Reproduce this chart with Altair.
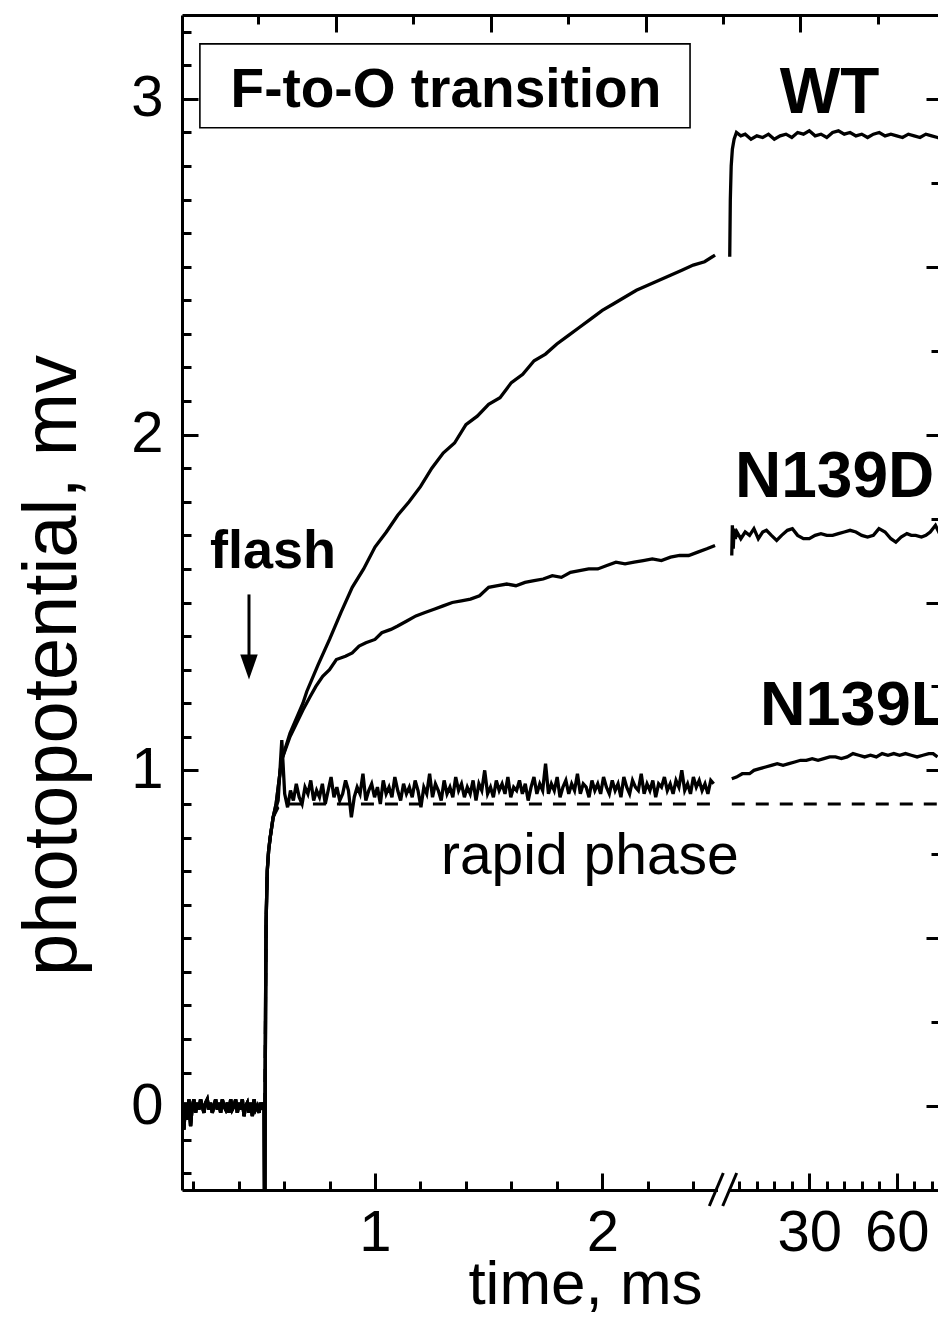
import altair as alt
import numpy as np
import pandas as pd

FONT = "Liberation Sans"

# ---- broken time axis: first segment in ms, second segment (after //) in ms on a compressed scale
U0 = 2.526      # axis position of the break
K = 0.01282     # axis units per ms in the second segment
XMIN, XMAX = 0.151, 3.512
YMIN, YMAX = -0.25, 3.25
W_FULL, W, H = 764, 756, 1175   # full x range in px, visible plot width, plot height

# ---- shared baseline before the flash (time grid in ms, values in mV)
pre_t = list(np.linspace(0.152, 0.512, 50))
pre_v = [-0.01, -0.07, 0.01, -0.04, 0.02, -0.06, 0.00, 0.02, -0.02, 0.01,
         -0.01, 0.02, 0.00, -0.02, 0.01, 0.02, -0.01, 0.01, -0.02, 0.00,
         0.02, -0.01, 0.01, -0.02, 0.02, 0.00, -0.01, 0.01, -0.02, 0.02,
         -0.01, 0.00, 0.02, -0.02, 0.01, -0.01, 0.02, -0.03, 0.00, 0.01,
         -0.02, 0.01, -0.03, 0.02, -0.01, 0.00, -0.02, 0.01, -0.01, 0.01]
# flash artefact and rapid rise (shared by all traces)
rise_t = [0.515, 0.517, 0.519, 0.521, 0.526, 0.532, 0.539, 0.552]
rise_v = [-0.45, 0.05, 0.35, 0.55, 0.70, 0.76, 0.80, 0.86]

# ---- WT
wt_t = [0.565, 0.589, 0.626, 0.683, 0.70, 0.75, 0.80, 0.85, 0.90, 0.95, 1.00, 1.05,
        1.10, 1.15, 1.20, 1.25, 1.30, 1.35, 1.40, 1.45, 1.50, 1.55, 1.60, 1.65,
        1.70, 1.75, 1.80, 1.85, 1.90, 1.95, 2.00, 2.05, 2.10, 2.15, 2.20, 2.25,
        2.30, 2.35, 2.40, 2.45, 2.496]
wt_v = [0.90, 1.03, 1.11, 1.20, 1.235, 1.315, 1.39, 1.47, 1.545, 1.60, 1.665, 1.71,
        1.76, 1.80, 1.845, 1.90, 1.945, 1.975, 2.03, 2.055, 2.09, 2.11, 2.155, 2.18,
        2.22, 2.24, 2.27, 2.295, 2.32, 2.345, 2.37, 2.39, 2.41, 2.43, 2.445, 2.46,
        2.475, 2.49, 2.505, 2.515, 2.535]
wt_t2 = [2.7, 2.9, 3.2, 3.6, 4.2, 5.0, 6.5, 8, 10, 12, 14, 16, 18, 20, 22, 24, 26, 28,
         30, 32, 34, 36, 38, 40, 42, 44, 46, 48, 50, 52, 54, 56, 58, 60, 62, 64, 66,
         68, 70, 72, 74, 76, 78]
wt_v2 = [2.53, 2.70, 2.80, 2.85, 2.88, 2.90, 2.89, 2.895, 2.88, 2.89, 2.885, 2.895,
         2.88, 2.89, 2.895, 2.885, 2.90, 2.895, 2.905, 2.89, 2.895, 2.885, 2.90, 2.905,
         2.895, 2.90, 2.89, 2.895, 2.885, 2.895, 2.90, 2.89, 2.895, 2.89, 2.885, 2.895,
         2.89, 2.885, 2.895, 2.89, 2.885, 2.88, 2.885]

# ---- N139D
d_t = [0.565, 0.589, 0.626, 0.683, 0.715, 0.74, 0.77, 0.80, 0.83, 0.87, 0.90, 0.93,
       0.96, 1.00, 1.03, 1.07, 1.10, 1.14, 1.18, 1.22, 1.26, 1.30, 1.34, 1.38, 1.42,
       1.46, 1.50, 1.54, 1.58, 1.62, 1.66, 1.70, 1.74, 1.78, 1.82, 1.86, 1.90, 1.94,
       1.98, 2.02, 2.06, 2.10, 2.14, 2.18, 2.22, 2.26, 2.30, 2.34, 2.38, 2.42, 2.46,
       2.496]
d_v = [0.90, 1.03, 1.10, 1.18, 1.22, 1.25, 1.28, 1.30, 1.33, 1.34, 1.35, 1.37,
       1.38, 1.39, 1.41, 1.42, 1.43, 1.445, 1.46, 1.47, 1.48, 1.49, 1.50, 1.505, 1.51,
       1.52, 1.545, 1.55, 1.555, 1.55, 1.56, 1.565, 1.57, 1.58, 1.575, 1.59, 1.595, 1.60,
       1.60, 1.61, 1.62, 1.615, 1.62, 1.625, 1.63, 1.625, 1.635, 1.64, 1.64, 1.65, 1.66,
       1.67]
d_t2 = [3.4, 3.6, 3.9, 4.2, 4.6, 5.2, 6.5, 8, 9.5, 11, 12.5, 14, 15.3, 17, 18.8, 20.5,
        22.5, 24.2, 26, 28, 30, 32, 34, 36, 38, 40, 42, 44, 46, 48, 50, 52, 53.9, 56,
        58, 59.7, 61.5, 63.5, 65, 66.5, 68.5, 70, 71.5, 73.3, 75, 77]
d_v2 = [1.64, 1.73, 1.66, 1.72, 1.69, 1.71, 1.69, 1.71, 1.70, 1.72, 1.69, 1.71,
        1.715, 1.70, 1.685, 1.70, 1.715, 1.72, 1.70, 1.69, 1.69, 1.70, 1.705, 1.70,
        1.70, 1.705, 1.71, 1.715, 1.71, 1.70, 1.695, 1.70, 1.72, 1.71, 1.69, 1.68,
        1.695, 1.705, 1.70, 1.70, 1.695, 1.70, 1.71, 1.73, 1.70, 1.70]

# ---- N139L (noisy, sampled on a regular time grid)
l_t = [0.574] + list(np.linspace(0.59, 2.49, 150))
l_v = [0.91,
       1.09, 0.93, 0.89, 0.94, 0.91, 0.96, 0.92, 0.90, 0.95, 0.93, 0.97, 0.91, 0.94, 0.92, 0.96,
       0.90, 0.94, 0.98, 0.92, 0.95, 0.91, 0.93, 0.97, 0.94, 0.86, 0.92, 0.95, 0.93, 0.99, 0.91,
       0.94, 0.96, 0.92, 0.95, 0.90, 0.97, 0.93, 0.95, 0.92, 0.98, 0.94, 0.91, 0.96, 0.93, 0.95,
       0.92, 0.97, 0.94, 0.89, 0.95, 0.93, 0.99, 0.92, 0.96, 0.94, 0.91, 0.97, 0.93, 0.95, 0.92,
       0.98, 0.94, 0.96, 0.92, 0.95, 0.93, 0.97, 0.91, 0.96, 0.94, 1.00, 0.93, 0.95, 0.92, 0.97,
       0.94, 0.96, 0.93, 0.98, 0.92, 0.95, 0.94, 0.97, 0.93, 0.96, 0.91, 0.95, 0.98, 0.93, 0.96,
       0.94, 1.02, 0.93, 0.96, 0.94, 0.98, 0.92, 0.95, 0.97, 0.93, 0.96, 0.94, 0.99, 0.93, 0.96,
       0.95, 0.92, 0.97, 0.94, 0.96, 0.93, 0.98, 0.95, 0.93, 0.97, 0.94, 0.96, 0.92, 0.98, 0.95,
       0.93, 0.97, 0.95, 0.94, 0.99, 0.93, 0.96, 0.94, 0.97, 0.92, 0.96, 0.95, 0.98, 0.94, 0.96,
       0.93, 0.97, 0.95, 1.00, 0.94, 0.96, 0.93, 0.98, 0.95, 0.97, 0.94, 0.96, 0.93, 0.97, 0.96]
l_t2 = [3.4, 5, 7, 9.5, 11, 13, 15, 17, 19, 21, 23, 25, 27, 29, 31, 33, 35, 37, 39,
        41, 43, 45, 47, 49, 51, 53, 55, 57, 59, 61, 63, 65, 67, 69, 71, 72.5, 74]
l_v2 = [0.975, 0.98, 0.99, 0.99, 1.00, 1.005, 1.01, 1.015, 1.02, 1.015, 1.02, 1.025,
        1.03, 1.03, 1.035, 1.03, 1.035, 1.04, 1.04, 1.035, 1.04, 1.05, 1.045, 1.04,
        1.045, 1.04, 1.05, 1.045, 1.05, 1.045, 1.05, 1.045, 1.04, 1.045, 1.05, 1.05,
        1.04]

# ---- rapid phase (dashed)
r_t = [0.515, 0.519, 0.521, 0.526, 0.532, 0.539, 0.552, 0.574, 0.60, 2.496]
r_v = [0.0, 0.35, 0.55, 0.70, 0.76, 0.80, 0.86, 0.89, 0.90, 0.90]
r_t2 = [3.4, 80]
r_v2 = [0.90, 0.90]

# ---- axis tick values
x_major = [1, 2]
x_major2 = [30, 60]
x_minor = [0.2, 0.4, 0.6, 0.8, 1.2, 1.4, 1.6, 1.8, 2.2, 2.4]
x_minor2 = [6, 12, 18, 24, 36, 42, 48, 54, 66, 72]
top_major = [0.827, 1.509, 2.191, 2.870]
top_minor = [0.485, 1.167, 1.849, 2.531, 3.213]
y_major = [0, 1, 2, 3]
y_minor = [-0.2, -0.1, 0.1, 0.2, 0.3, 0.4, 0.5, 0.6, 0.7, 0.8, 0.9, 1.1, 1.2, 1.3,
           1.4, 1.5, 1.6, 1.7, 1.8, 1.9, 2.1, 2.2, 2.3, 2.4, 2.5, 2.6, 2.7, 2.8, 2.9,
           3.1, 3.2]
yr_major = [0, 0.5, 1, 1.5, 2, 2.5, 3]
yr_minor = [0.25, 0.75, 1.25, 1.75, 2.25, 2.75]


def second(t2):
    return [U0 + K * x for x in t2]


def frame(u, v, name):
    return pd.DataFrame({"u": u, "v": v, "trace": name})


lines = pd.concat([
    frame(pre_t + rise_t + wt_t, pre_v + rise_v + wt_v, "WT a"),
    frame(second(wt_t2), wt_v2, "WT b"),
    frame(pre_t + rise_t + d_t, pre_v + rise_v + d_v, "N139D a"),
    frame(second(d_t2), d_v2, "N139D b"),
    frame(pre_t + rise_t + l_t, pre_v + rise_v + l_v, "N139L a"),
    frame(second(l_t2), l_v2, "N139L b"),
])
dashed = pd.concat([frame(r_t, r_v, "a"), frame(second(r_t2), r_v2, "b")])

xs = alt.Scale(domain=[XMIN, XMAX], range=[0, W_FULL], nice=False, zero=False)
ys = alt.Scale(domain=[YMIN, YMAX], nice=False, zero=False)

tick_common = dict(labels=False, domain=False, grid=False, title=None,
                   tickColor="black", tickWidth=3)

X_MAIN = alt.Axis(orient="bottom", values=x_major + second(x_major2),
                  labelExpr="datum.value < 2.6 ? format(datum.value, '.0f') : "
                            f"format((datum.value - {U0}) / {K}, '.0f')",
                  ticks=False, tickSize=0, domain=True, domainWidth=3,
                  domainColor="black", grid=False, labelFont=FONT,
                  labelFontSize=58, labelColor="black", labelBaseline="alphabetic",
                  labelPadding=60, labelOverlap=False, labelFlush=False,
                  title="time, ms", titleFont=FONT, titleFontSize=62,
                  titleFontWeight="normal", titleColor="black",
                  titleBaseline="alphabetic", titleAlign="center", titleAnchor="start",
                  titleX=403, titleY=113)
Y_MAIN = alt.Axis(orient="left", values=y_major, ticks=False, tickSize=0,
                  domain=True, domainWidth=3, domainColor="black", grid=False,
                  labelFont=FONT, labelFontSize=58, labelColor="black",
                  labelPadding=19, labelOverlap=False, labelFlush=False,
                  title="photopotential, mv", titleFont=FONT, titleFontSize=76,
                  titleFontWeight="normal", titleColor="black",
                  titleBaseline="alphabetic", titleAlign="center", titleAnchor="start",
                  titleAngle=270, titleX=-107, titleY=650)

axes_x = [
    alt.Axis(orient="top", offset=-H, values=x_major + second(x_major2), tickSize=17, **tick_common),
    alt.Axis(orient="top", offset=-H, values=x_minor + second(x_minor2), tickSize=9, **tick_common),
    alt.Axis(orient="bottom", offset=-H, values=top_major, tickSize=17, labels=False,
             domain=True, domainWidth=3, domainColor="black", grid=False, title=None,
             tickColor="black", tickWidth=3),
    alt.Axis(orient="bottom", offset=-H, values=top_minor, tickSize=9, **tick_common),
]
axes_y = [
    alt.Axis(orient="right", offset=-W, values=y_major, tickSize=16, **tick_common),
    alt.Axis(orient="right", offset=-W, values=y_minor, tickSize=9, **tick_common),
    alt.Axis(orient="left", offset=-W, values=yr_major, tickSize=12, **tick_common),
    alt.Axis(orient="left", offset=-W, values=yr_minor, tickSize=7, **tick_common),
]

anchor = pd.DataFrame({"u": [1.0], "v": [0.0]})
layers = []
for ax in axes_x:
    layers.append(alt.Chart(anchor).mark_point(opacity=0).encode(
        x=alt.X("u:Q", scale=xs, axis=ax), y=alt.Y("v:Q", scale=ys, axis=None)))
for ax in axes_y:
    layers.append(alt.Chart(anchor).mark_point(opacity=0).encode(
        x=alt.X("u:Q", scale=xs, axis=None), y=alt.Y("v:Q", scale=ys, axis=ax)))

# dashed rapid phase
layers.append(alt.Chart(dashed).mark_line(color="black", strokeWidth=3, strokeDash=[13, 11], clip=True).encode(
    x=alt.X("u:Q", scale=xs, axis=None), y=alt.Y("v:Q", scale=ys, axis=None), detail="trace:N"))
# traces
layers.append(alt.Chart(lines).mark_line(color="black", strokeWidth=3.3, clip=True).encode(
    x=alt.X("u:Q", scale=xs, axis=X_MAIN), y=alt.Y("v:Q", scale=ys, axis=Y_MAIN),
    detail="trace:N", order="u:Q"))

# boxed title
box = pd.DataFrame({"u": [0.2297], "u2": [2.386], "v": [3.164], "v2": [2.914]})
layers.append(alt.Chart(box).mark_rect(fill="white", stroke="black", strokeWidth=1.6).encode(
    x=alt.X("u:Q", scale=xs, axis=None), x2="u2", y=alt.Y("v:Q", scale=ys, axis=None), y2="v2"))

labels_bold = pd.DataFrame({
    "u": [1.312, 2.781, 2.584, 2.694, 0.274],
    "v": [2.976, 2.958, 1.815, 1.134, 1.604],
    "txt": ["F-to-O transition", "WT", "N139D", "N139L", "flash"],
    "size": [55, 64, 64, 63, 54],
    "al": ["center", "left", "left", "left", "left"],
})
for _, row in labels_bold.iterrows():
    layers.append(alt.Chart(labels_bold[labels_bold.txt == row.txt]).mark_text(
        font=FONT, fontWeight="bold", fontSize=int(row["size"]), align=row.al,
        baseline="alphabetic", color="black").encode(
        x=alt.X("u:Q", scale=xs, axis=None), y=alt.Y("v:Q", scale=ys, axis=None), text="txt:N"))

rapid = pd.DataFrame({"u": [1.290], "v": [0.690], "txt": ["rapid phase"]})
layers.append(alt.Chart(rapid).mark_text(font=FONT, fontSize=57, align="left",
                                         baseline="alphabetic", color="black").encode(
    x=alt.X("u:Q", scale=xs, axis=None), y=alt.Y("v:Q", scale=ys, axis=None), text="txt:N"))

# flash arrow
arrow = pd.DataFrame({"u": [0.4457], "v": [1.524], "v2": [1.333]})
layers.append(alt.Chart(arrow).mark_rule(color="black", strokeWidth=3).encode(
    x=alt.X("u:Q", scale=xs, axis=None), y=alt.Y("v:Q", scale=ys, axis=None), y2="v2"))
head = pd.DataFrame({"u": [0.4457], "v": [1.308]})
layers.append(alt.Chart(head).mark_point(shape="M-0.7,-1L0.7,-1L0,1Z", size=625, filled=True,
                                         color="black", opacity=1, strokeWidth=0).encode(
    x=alt.X("u:Q", scale=xs, axis=None), y=alt.Y("v:Q", scale=ys, axis=None)))

# axis break marks //
gap = pd.DataFrame({"u": [2.509], "u2": [2.555], "v": [-0.2381], "v2": [-0.2610]})
layers.append(alt.Chart(gap).mark_rect(fill="white", clip=False).encode(
    x=alt.X("u:Q", scale=xs, axis=None), x2="u2", y=alt.Y("v:Q", scale=ys, axis=None), y2="v2"))
slashes = pd.DataFrame({"u": [2.4707, 2.5297], "u2": [2.5323, 2.5913],
                        "v": [-0.2976, -0.2976], "v2": [-0.1994, -0.1994], "k": ["a", "b"]})
layers.append(alt.Chart(slashes).mark_rule(color="black", strokeWidth=3, clip=False).encode(
    x=alt.X("u:Q", scale=xs, axis=None), x2="u2", y=alt.Y("v:Q", scale=ys, axis=None), y2="v2"))

chart = alt.layer(*layers).resolve_scale(x="shared", y="shared").resolve_axis(
    x="independent", y="independent").properties(
    width=W, height=H, autosize=alt.AutoSizeParams(type="none"),
    padding={"left": 174, "top": 7, "right": 0, "bottom": 123},
).configure_view(stroke=None).configure(background="white")

chart.save("out.html", embed_options={"renderer": "svg", "actions": False})
